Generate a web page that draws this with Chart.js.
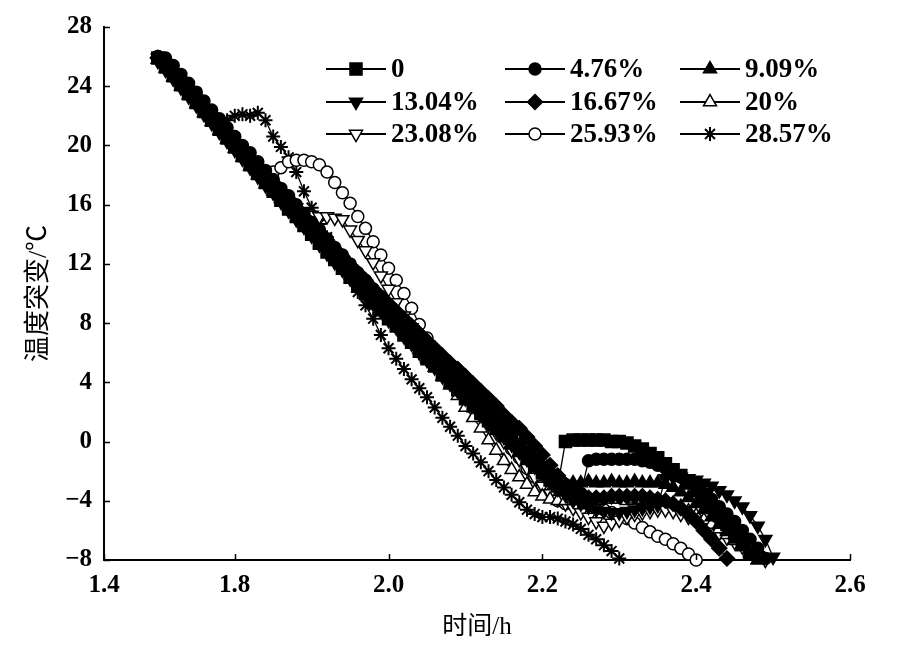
<!DOCTYPE html>
<html>
<head>
<meta charset="utf-8">
<title>温度突变</title>
<script src="https://cdn.jsdelivr.net/npm/chart.js@4.4.0/dist/chart.umd.min.js"></script>
<style>
  html, body { margin: 0; padding: 0; background: #fff; }
  #wrap { width: 911px; height: 654px; }
</style>
</head>
<body>
<div id="wrap"><canvas id="tempChart" width="911" height="654"></canvas></div>
<script>
// time axis (h), shared by every series; a series stops where its array ends
const hours = [
  1.70, 1.71, 1.72, 1.73, 1.74, 1.75, 1.76, 1.77, 1.78, 1.79,
  1.80, 1.81, 1.82, 1.83, 1.84, 1.85, 1.86, 1.87, 1.88, 1.89,
  1.90, 1.91, 1.92, 1.93, 1.94, 1.95, 1.96, 1.97, 1.98, 1.99,
  2.00, 2.01, 2.02, 2.03, 2.04, 2.05, 2.06, 2.07, 2.08, 2.09,
  2.10, 2.11, 2.12, 2.13, 2.14, 2.15, 2.16, 2.17, 2.18, 2.19,
  2.20, 2.21, 2.22, 2.23, 2.24, 2.25, 2.26, 2.27, 2.28, 2.29,
  2.30, 2.31, 2.32, 2.33, 2.34, 2.35, 2.36, 2.37, 2.38, 2.39,
  2.40, 2.41, 2.42, 2.43, 2.44, 2.45, 2.46, 2.47, 2.48, 2.49,
  2.50, 2.51
];

const seriesLabels = ["0", "4.76%", "9.09%", "13.04%", "16.67%", "20%", "23.08%", "25.93%", "28.57%"];

// temperature (°C)
const temp0 = [
  25.9, 25.3, 24.7, 24.1, 23.5, 22.9, 22.3, 21.7, 21.1, 20.5,
  19.9, 19.3, 18.7, 18.1, 17.5, 16.9, 16.3, 15.7, 15.2, 14.6,
  14.0, 13.4, 12.8, 12.3, 11.7, 11.1, 10.5, 10.0, 9.4, 8.9,
  8.3, 7.8, 7.2, 6.7, 6.1, 5.6, 5.1, 4.5, 4.0, 3.5,
  2.9, 2.4, 1.9, 1.4, 0.9, 0.4, -0.1, -0.6, -1.1, -1.6,
  -2.1, -2.6, -3.0, 0.0, 0.1, 0.1, 0.1, 0.1, 0.1, 0.0,
  0.0, -0.1, -0.3, -0.5, -0.8, -1.1, -1.5, -1.9, -2.3, -2.8,
  -3.3, -3.8, -4.4, -5.0, -5.6, -6.2, -6.9, -7.5
];
const temp476 = [
  26.0, 25.9, 25.4, 24.8, 24.2, 23.6, 23.0, 22.4, 21.8, 21.2,
  20.6, 20.0, 19.5, 18.9, 18.3, 17.7, 17.1, 16.6, 16.0, 15.4,
  14.8, 14.3, 13.7, 13.1, 12.6, 12.0, 11.4, 10.9, 10.3, 9.8,
  9.2, 8.6, 8.1, 7.5, 7.0, 6.4, 5.9, 5.3, 4.8, 4.2,
  3.7, 3.1, 2.6, 2.0, 1.5, 0.9, 0.4, -0.2, -0.7, -1.2,
  -1.7, -2.1, -2.5, -2.9, -3.2, -3.5, -1.3, -1.2, -1.2, -1.2,
  -1.2, -1.2, -1.2, -1.3, -1.4, -1.6, -1.8, -2.1, -2.4, -2.7,
  -3.1, -3.5, -3.9, -4.4, -4.9, -5.4, -6.0, -6.6, -7.2, -7.9
];
const temp909 = [
  25.8, 25.5, 25.0, 24.4, 23.8, 23.2, 22.6, 22.0, 21.4, 20.8,
  20.2, 19.7, 19.1, 18.5, 17.9, 17.3, 16.7, 16.1, 15.6, 15.0,
  14.4, 13.8, 13.3, 12.7, 12.1, 11.6, 11.0, 10.5, 9.9, 9.3,
  8.8, 8.2, 7.7, 7.1, 6.6, 6.0, 5.5, 4.9, 4.4, 3.9,
  3.3, 2.8, 2.2, 1.7, 1.2, 0.6, 0.1, -0.4, -0.9, -1.4,
  -1.9, -2.4, -2.9, -3.4, -2.8, -2.8, -2.7, -2.8, -2.8, -2.7,
  -2.8, -2.8, -2.7, -2.8, -2.8, -2.8, -2.9, -3.1, -3.4, -3.8,
  -4.2, -4.6, -5.1, -5.6, -6.1, -6.6, -7.1, -7.6, -8.0
];
const temp1304 = [
  25.7, 25.1, 24.5, 23.9, 23.3, 22.7, 22.1, 21.5, 20.9, 20.3,
  19.7, 19.1, 18.5, 17.9, 17.3, 16.8, 16.2, 15.6, 15.0, 14.5,
  13.9, 13.3, 12.7, 12.1, 11.6, 11.0, 10.4, 9.9, 9.3, 8.8,
  8.2, 7.7, 7.1, 6.6, 6.0, 5.5, 5.0, 4.4, 3.9, 3.4,
  2.9, 2.4, 1.8, 1.3, 0.8, 0.3, -0.2, -0.7, -1.2, -1.7,
  -2.2, -2.7, -3.2, -3.6, -4.0, -4.2, -4.4, -4.6, -4.7, -4.8,
  -4.8, -4.7, -4.6, -4.5, -4.4, -4.3, -2.5, -2.4, -2.4, -2.5,
  -2.6, -2.8, -3.0, -3.3, -3.6, -4.0, -4.4, -5.0, -5.7, -6.6,
  -7.8
];
const temp1667 = [
  25.9, 25.4, 24.9, 24.3, 23.7, 23.1, 22.6, 22.0, 21.4, 20.8,
  20.3, 19.7, 19.1, 18.6, 18.0, 17.5, 16.9, 16.3, 15.8, 15.2,
  14.7, 14.1, 13.6, 13.0, 12.5, 11.9, 11.4, 10.9, 10.3, 9.8,
  9.3, 8.8, 8.3, 7.8, 7.3, 6.8, 6.3, 5.8, 5.3, 4.9,
  4.4, 3.9, 3.4, 2.9, 2.4, 1.8, 1.3, 0.9, 0.3, -0.3,
  -0.9, -1.6, -2.3, -2.9, -3.4, -3.7, -3.8, -3.8, -3.8, -3.7,
  -3.7, -3.7, -3.7, -3.7, -3.8, -3.9, -4.0, -4.2, -4.5, -4.9,
  -5.4, -6.0, -6.6, -7.2, -7.9
];
const temp20 = [
  25.8, 25.2, 24.6, 24.0, 23.4, 22.8, 22.2, 21.6, 21.0, 20.4,
  19.8, 19.2, 18.6, 18.0, 17.4, 16.9, 16.4, 15.9, 15.4, 14.9,
  14.3, 13.8, 13.2, 12.6, 12.0, 11.4, 10.9, 10.3, 9.7, 9.1,
  8.5, 8.0, 7.4, 6.8, 6.2, 5.6, 5.0, 4.4, 3.8, 3.1,
  2.3, 1.6, 0.9, 0.1, -0.6, -1.3, -1.9, -2.4, -2.9, -3.4,
  -3.7, -3.9, -4.0, -4.0, -3.9, -3.9, -3.9, -4.0, -3.9, -3.9,
  -3.9, -4.0, -3.9, -3.9, -4.0, -4.0, -4.0, -4.2, -4.4, -4.7,
  -5.0, -5.3, -5.6, -5.9, -6.3, -6.7, -7.1, -7.5, -8.0
];
const temp2308 = [
  25.9, 25.5, 24.9, 24.3, 23.7, 23.1, 22.5, 21.9, 21.3, 20.7,
  20.1, 19.5, 18.9, 18.3, 17.8, 17.2, 16.7, 16.2, 15.8, 15.5,
  15.3, 15.2, 15.2, 15.1, 15.0, 14.3, 13.6, 12.9, 12.1, 11.2,
  10.3, 9.4, 8.5, 7.7, 6.9, 6.2, 5.5, 4.8, 4.2, 3.6,
  3.0, 2.4, 1.8, 1.2, 0.6, 0.0, -0.6, -1.2, -1.8, -2.4,
  -3.0, -3.5, -3.9, -4.2, -4.5, -4.8, -5.1, -5.4, -5.7, -5.5,
  -5.3, -5.1, -4.9, -4.8, -4.7, -4.6, -4.6, -4.7, -4.9, -5.1,
  -5.3, -5.6, -5.9, -6.2, -6.5, -6.8, -7.1, -7.4, -7.7, -8.0
];
const temp2593 = [
  26.0, 25.5, 24.9, 24.3, 23.7, 23.1, 22.5, 21.9, 21.3, 20.7,
  20.2, 19.6, 19.0, 18.5, 18.2, 18.2, 18.5, 18.9, 19.0, 19.0,
  18.9, 18.7, 18.2, 17.5, 16.8, 16.1, 15.2, 14.4, 13.5, 12.6,
  11.7, 10.9, 10.0, 9.0, 7.9, 7.0, 6.2, 5.4, 4.7, 4.0,
  3.4, 2.8, 2.1, 1.4, 0.8, 0.2, -0.5, -1.1, -1.8, -2.4,
  -3.0, -3.6, -4.0, -4.2, -4.1, -4.1, -4.3, -4.5, -4.6, -4.8,
  -5.0, -5.2, -5.5, -5.8, -6.1, -6.4, -6.6, -6.9, -7.2, -7.6,
  -8.0
];
const temp2857 = [
  25.9, 25.3, 24.7, 24.1, 23.5, 22.9, 22.3, 21.8, 21.5, 21.7,
  22.0, 22.1, 22.0, 22.2, 21.7, 20.6, 19.9, 19.2, 18.2, 16.9,
  15.8, 14.7, 13.8, 12.8, 11.9, 11.0, 10.1, 9.2, 8.3, 7.2,
  6.3, 5.6, 4.9, 4.2, 3.6, 3.0, 2.3, 1.6, 1.0, 0.4,
  -0.3, -0.8, -1.4, -2.0, -2.6, -3.1, -3.6, -4.1, -4.6, -4.9,
  -5.1, -5.1, -5.2, -5.4, -5.6, -5.9, -6.3, -6.6, -7.0, -7.4,
  -7.9
];

const seriesTemps = [temp0, temp476, temp909, temp1304, temp1667, temp20, temp2308, temp2593, temp2857];

// x axis: the printed labels of the original figure
const xTickValues = [1.63, 1.8, 2.0, 2.2, 2.4, 2.6];
const xTickLabels = ["1.4", "1.8", "2.0", "2.2", "2.4", "2.6"];

// marker look for each series
const markers = [
  { style: "rect", r: 8.5, fill: "#000" },
  { style: "circle", r: 6, fill: "#000" },
  { style: "triangle", r: 7.5, fill: "#000" },
  { style: "triangle", r: 7.5, fill: "#000", rot: 180 },
  { style: "rectRot", r: 7.5, fill: "#000" },
  { style: "triangle", r: 7.5, fill: "#fff" },
  { style: "triangle", r: 7.5, fill: "#fff", rot: 180 },
  { style: "circle", r: 6, fill: "#fff" },
  { style: "star", r: 7, fill: "#000", bw: 2 },
];

const serif = '"Liberation Serif", "Times New Roman", serif';
const mixed = '"Liberation Serif", "Noto Sans CJK SC", serif';

const datasets = seriesTemps.map((temps, k) => {
  const m = markers[k];
  return {
    label: seriesLabels[k],
    data: temps.map((t, i) => ({ x: hours[i], y: t })),
    borderColor: "#000",
    borderWidth: 1.3,
    pointStyle: m.style,
    pointRadius: m.r,
    pointRotation: m.rot || 0,
    pointBackgroundColor: m.fill,
    pointBorderColor: "#000",
    pointBorderWidth: m.bw || 1.5,
    tension: 0,
    clip: false,
  };
});

// legend with line + marker samples, three columns inside the plot
const lineLegend = {
  id: "lineLegend",
  afterDraw(chart) {
    const ctx = chart.ctx;
    const colX = [326, 505, 680];
    const rowY = [69, 102, 134];
    ctx.save();
    chart.data.datasets.forEach((ds, i) => {
      const x0 = colX[i % 3];
      const y = rowY[Math.floor(i / 3)];
      ctx.strokeStyle = "#000";
      ctx.lineWidth = 1.8;
      ctx.beginPath();
      ctx.moveTo(x0, y);
      ctx.lineTo(x0 + 60, y);
      ctx.stroke();
      ctx.fillStyle = ds.pointBackgroundColor;
      ctx.lineWidth = ds.pointBorderWidth;
      Chart.helpers.drawPoint(ctx, {
        pointStyle: ds.pointStyle,
        radius: ds.pointRadius,
        rotation: ds.pointRotation,
        borderWidth: ds.pointBorderWidth,
      }, x0 + 30, y);
      ctx.fillStyle = "#000";
      ctx.font = "bold 27px " + serif;
      ctx.textAlign = "left";
      ctx.textBaseline = "middle";
      ctx.fillText(ds.label, x0 + 65, y + 1);
    });
    ctx.restore();
  },
};

// tick marks pointing into the plot
const innerTicks = {
  id: "innerTicks",
  afterDraw(chart) {
    const { ctx, scales: { x, y }, chartArea } = chart;
    ctx.save();
    ctx.strokeStyle = "#000";
    ctx.lineWidth = 1.5;
    ctx.beginPath();
    x.ticks.forEach((t) => {
      const px = Math.round(x.getPixelForValue(t.value)) + 0.5;
      ctx.moveTo(px, chartArea.bottom);
      ctx.lineTo(px, chartArea.bottom - 6);
    });
    y.ticks.forEach((t) => {
      const py = Math.round(y.getPixelForValue(t.value)) + 0.5;
      ctx.moveTo(chartArea.left, py);
      ctx.lineTo(chartArea.left + 6, py);
    });
    ctx.stroke();
    ctx.restore();
  },
};

const config = {
  type: "line",
  data: { datasets: datasets },
  options: {
    responsive: false,
    animation: false,
    devicePixelRatio: 1,
    layout: { padding: { left: 0, right: 61, top: 21, bottom: 0 } },
    plugins: {
      legend: { display: false },
      tooltip: { enabled: false },
    },
    scales: {
      x: {
        type: "linear",
        min: 1.63,
        max: 2.6,
        afterBuildTicks: (scale) => {
          scale.ticks = xTickValues.map((v) => ({ value: v }));
        },
        afterFit: (scale) => { scale.height = 94; },
        ticks: {
          color: "#000",
          padding: 11,
          maxRotation: 0,
          autoSkip: false,
          font: { family: serif, size: 25, weight: "bold" },
          callback: (value, index) => xTickLabels[index],
        },
        grid: { display: false, drawTicks: false },
        border: { display: true, color: "#000", width: 2 },
        title: {
          display: true,
          text: "时间/h",
          color: "#000",
          font: { family: mixed, size: 25 },
          padding: { top: 0, bottom: 12 },
        },
      },
      y: {
        min: -8,
        max: 28,
        afterFit: (scale) => { scale.width = 104; },
        ticks: {
          stepSize: 4,
          color: "#000",
          padding: 12,
          font: { family: serif, size: 25, weight: "bold" },
          callback: (value) => String(value).replace("-", "\u2212"),
        },
        grid: { display: false, drawTicks: false },
        border: { display: true, color: "#000", width: 2 },
        title: {
          display: true,
          text: "温度突变/℃",
          color: "#000",
          font: { family: mixed, size: 26 },
          padding: { top: 24, bottom: 0 },
        },
      },
    },
  },
  plugins: [lineLegend, innerTicks],
};

const ctx = document.getElementById("tempChart").getContext("2d");
let tempChart = new Chart(ctx, config);
</script>
</body>
</html>
